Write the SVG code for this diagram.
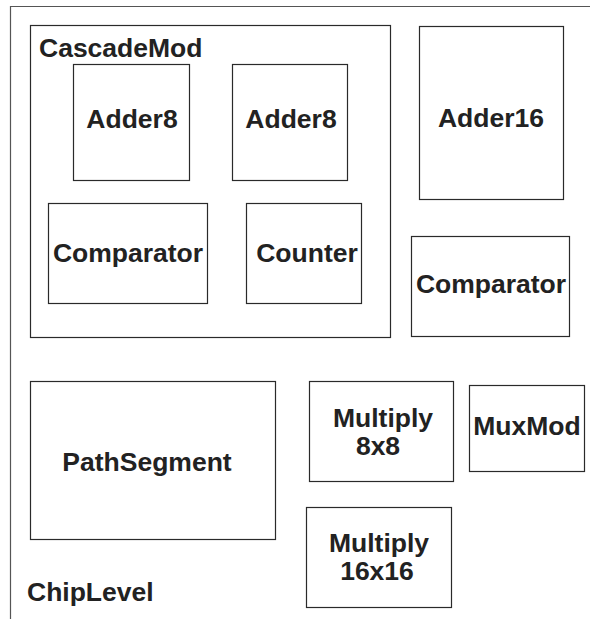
<svg xmlns="http://www.w3.org/2000/svg" width="590" height="619" viewBox="0 0 590 619">
<style>
.box{fill:#fff;stroke:#2a2a2a;stroke-width:1.2}
.frame{fill:none;stroke:#555;stroke-width:1.2}
.lbl{font-family:"Liberation Sans",Arial,sans-serif;font-weight:bold;font-size:26.5px;fill:#222}
.c{text-anchor:middle}
</style>
<rect width="590" height="619" fill="#fff"/>
<g id="ChipLevel">
<path class="frame" d="M10.5,619 V6.5 H590"/>
<text class="lbl" x="27" y="601">ChipLevel</text>
</g>
<g id="CascadeMod">
<rect class="box" x="30.5" y="25.5" width="360" height="312"/>
<text class="lbl" x="39" y="57">CascadeMod</text>
</g>
<g id="Adder8_1">
<rect class="box" x="73.5" y="64.5" width="116" height="116"/>
<text class="lbl c" x="132" y="128">Adder8</text>
</g>
<g id="Adder8_2">
<rect class="box" x="232.5" y="64.5" width="115" height="116"/>
<text class="lbl c" x="291" y="128">Adder8</text>
</g>
<g id="Comparator_1">
<rect class="box" x="48.5" y="203.5" width="159" height="100"/>
<text class="lbl c" x="128" y="262">Comparator</text>
</g>
<g id="Counter">
<rect class="box" x="246.5" y="203.5" width="115" height="100"/>
<text class="lbl c" x="307" y="262">Counter</text>
</g>
<g id="Adder16">
<rect class="box" x="419.5" y="26.5" width="144" height="173"/>
<text class="lbl c" x="491" y="127">Adder16</text>
</g>
<g id="Comparator_2">
<rect class="box" x="411.5" y="236.5" width="158" height="100"/>
<text class="lbl c" x="491" y="293">Comparator</text>
</g>
<g id="PathSegment">
<rect class="box" x="30.5" y="381.5" width="245" height="158"/>
<text class="lbl c" x="147" y="471">PathSegment</text>
</g>
<g id="Multiply8x8">
<rect class="box" x="309.5" y="381.5" width="144" height="100"/>
<text class="lbl c" x="383" y="427">Multiply</text>
<text class="lbl c" x="378" y="455">8x8</text>
</g>
<g id="MuxMod">
<rect class="box" x="469.5" y="385.5" width="115" height="86"/>
<text class="lbl c" x="527" y="435">MuxMod</text>
</g>
<g id="Multiply16x16">
<rect class="box" x="306.5" y="507.5" width="145" height="100"/>
<text class="lbl c" x="379" y="552">Multiply</text>
<text class="lbl c" x="377" y="580">16x16</text>
</g>
<g id="connectors"></g>
</svg>
